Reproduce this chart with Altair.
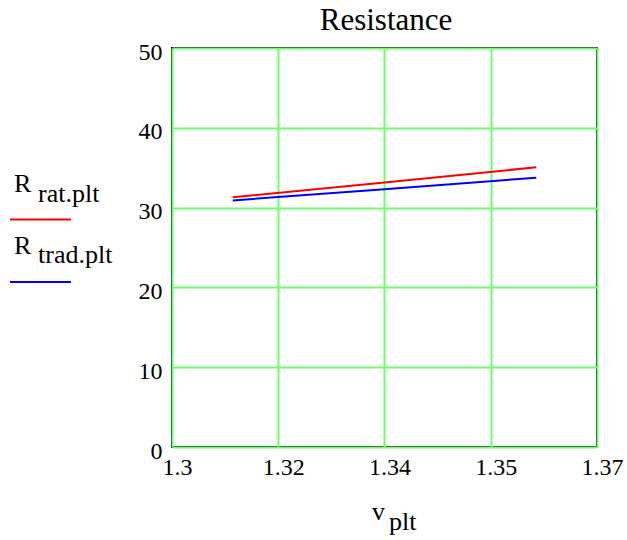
import altair as alt
import pandas as pd

# ---- data ----
v_plt = [1.31, 1.335, 1.36]
r_rat_plt = [31.3, 33.15, 35.05]
r_trad_plt = [30.9, 32.3, 33.75]

x_tick_values = [1.3, 1.3175, 1.335, 1.3525, 1.37]
x_tick_labels = ["1.3", "1.32", "1.34", "1.35", "1.37"]
y_tick_values = [0, 10, 20, 30, 40, 50]

series_names = ["rat", "trad"]
series_colors = ["#ff0000", "#0000ff"]

df = pd.concat([
    pd.DataFrame({"v": v_plt, "R": r_rat_plt, "series": "rat"}),
    pd.DataFrame({"v": v_plt, "R": r_trad_plt, "series": "trad"}),
])

FONT = "'Liberation Serif', 'Times New Roman', 'DejaVu Serif', serif"
GRID = "#6cff6c"

label_expr = "[" + ",".join("'%s'" % s for s in x_tick_labels) + "][indexof([" + \
    ",".join(repr(v) for v in x_tick_values) + "], datum.value)]"

lines = alt.Chart(df).mark_line(strokeWidth=2).encode(
    x=alt.X("v:Q",
            scale=alt.Scale(domain=[x_tick_values[0], x_tick_values[-1]], nice=False, zero=False),
            axis=alt.Axis(values=x_tick_values, labelExpr=label_expr, title=None,
                          grid=True, gridColor=GRID, gridWidth=2, ticks=False, domain=False,
                          labelFont=FONT, labelFontSize=24, labelColor="black",
                          labelPadding=8, labelOffset=5, labelFlush=False,
                          labelOverlap=False, labelBound=False)),
    y=alt.Y("R:Q",
            scale=alt.Scale(domain=[y_tick_values[0], y_tick_values[-1]], nice=False),
            axis=alt.Axis(values=y_tick_values, title=None, format="d",
                          grid=True, gridColor=GRID, gridWidth=2, ticks=False, domain=False,
                          labelFont=FONT, labelFontSize=24, labelColor="black",
                          labelPadding=10, labelOffset=4, labelFlush=False,
                          labelOverlap=False, labelBound=False)),
    color=alt.Color("series:N", scale=alt.Scale(domain=series_names, range=series_colors),
                    legend=None),
    detail="series:N",
)

one = alt.Data(values=[{}])


def txt(s, x, y, size=26, align="left"):
    return alt.Chart(one).mark_text(font=FONT, fontSize=size, align=align,
                                    baseline="alphabetic", color="black").encode(
        x=alt.value(x), y=alt.value(y), text=alt.value(s))


def swatch(color, y):
    return alt.Chart(one).mark_rule(color=color, strokeWidth=2).encode(
        x=alt.value(-162), x2=alt.value(-101), y=alt.value(y))


title_layer = txt("Resistance", 214, -18, size=31, align="center")
legend_layers = [
    txt("R", -158, 144), txt("rat.plt", -134, 154), swatch(series_colors[0], 171.5),
    txt("R", -158, 206), txt("trad.plt", -134, 215), swatch(series_colors[1], 234),
]
xtitle_layers = [txt("v", 200, 472), txt("plt", 217, 482)]

chart = alt.layer(lines, title_layer, *legend_layers, *xtitle_layers).properties(
    width=425, height=399,
    autosize=alt.AutoSizeParams(type="none"),
    padding={"left": 172, "top": 48, "right": 30, "bottom": 93},
    background="white",
).configure_view(stroke="black", strokeWidth=2)

chart.save("out.html", embed_options={"renderer": "svg", "actions": False})
